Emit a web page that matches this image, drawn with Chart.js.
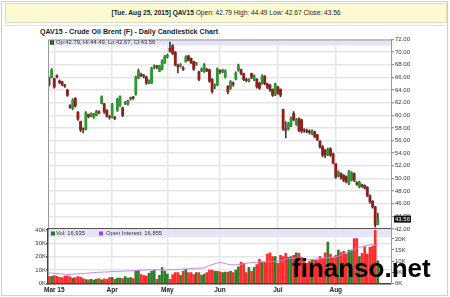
<!DOCTYPE html>
<html>
<head>
<meta charset="utf-8">
<script src="https://cdn.jsdelivr.net/npm/chart.js@4/dist/chart.umd.min.js"></script>
<style>
html, body { margin: 0; padding: 0; background: #fff; }
#wrap { position: relative; width: 450px; height: 297px; overflow: hidden; font-family: "Liberation Sans", Arial, sans-serif; }
#frame { position: absolute; left: 1px; top: 1px; width: 445px; height: 293px; border: 1px solid #cfcfcf; }
#hdr { position: absolute; left: 5px; top: 3px; width: 440px; height: 18px; background: #fbfad2; border: 1px solid #dcdcc4;
       font-size: 6.6px; line-height: 18px; text-align: center; color: #222; }
#rule { position: absolute; left: 3px; top: 25px; width: 443px; height: 1px; background: #e2e2e2; }
#ttl { position: absolute; left: 40px; top: 27.5px; font-size: 7.1px; line-height: 8px; font-weight: bold; color: #222; }
canvas { position: absolute; left: 0; top: 0; }
#wm { position: absolute; left: 292px; top: 255px; font-size: 26px; line-height: 26px; font-weight: bold; color: #000; }
</style>
</head>
<body>
<div id="wrap">
  <div id="frame"></div>
  <div id="hdr"><b>[Tue. Aug 25, 2015] QAV15</b> Open: 42.79 High: 44.49 Low: 42.67 Close: 43.56</div>
  <div id="rule"></div>
  <div id="ttl">QAV15 - Crude Oil Brent (F) - Daily Candlestick Chart</div>
  <canvas id="priceChart" width="450" height="297"></canvas>
  <canvas id="volumeChart" width="450" height="297"></canvas>
  <div id="wm">finanso.net</div>
</div>
<script>
// Daily candles, 26 Feb 2015 .. 25 Aug 2015 (one entry per trading day)
const opens = [
  65.8, 66.0, 65.8, 66.3, 65.4, 65.3, 64.8, 64.0, 61.5, 61.1,
  62.7, 60.5, 59.0, 57.9, 57.9, 60.1, 59.9, 59.7, 60.0, 60.6,
  61.9, 61.8, 60.8, 59.8, 59.7, 59.7, 60.8, 61.6, 61.2, 61.9,
  61.8, 62.6, 62.9, 63.4, 65.9, 66.5, 66.3, 66.1, 65.2, 65.1,
  67.6, 67.8, 67.0, 67.3, 68.3, 69.3, 70.6, 71.0, 70.0, 67.9,
  67.8, 67.5, 68.5, 69.4, 69.0, 68.5, 68.1, 66.9, 67.1, 66.9,
  67.3, 67.2, 65.7, 64.5, 64.8, 67.1, 66.9, 66.1, 64.6, 64.3,
  65.1, 65.8, 67.2, 67.2, 66.6, 65.7, 65.5, 66.6, 65.6, 65.7,
  65.1, 65.0, 66.2, 65.0, 64.8, 64.1, 63.3, 64.5, 64.1, 60.9,
  57.8, 57.9, 58.4, 60.3, 58.6, 59.5, 59.3, 57.7, 57.6, 57.5,
  57.1, 57.4, 56.9, 55.9, 55.0, 54.5, 53.8, 54.7, 53.9, 52.3,
  50.5, 50.8, 50.5, 50.3, 49.2, 49.8, 50.8, 49.3, 48.7, 49.0,
  48.9, 48.6, 47.3, 46.4, 45.5, 42.79
];
const highs = [
  66.1, 67.4, 65.9, 66.4, 65.6, 65.4, 64.9, 64.1, 61.7, 62.6,
  62.8, 60.6, 59.1, 58.0, 60.6, 60.2, 60.4, 60.3, 60.8, 60.7,
  63.1, 61.9, 60.9, 60.0, 61.9, 59.8, 62.7, 63.1, 61.3, 62.2,
  62.4, 62.9, 63.0, 66.2, 67.3, 66.7, 66.5, 66.2, 65.6, 67.6,
  68.0, 67.9, 67.9, 68.8, 69.5, 69.7, 71.6, 71.2, 70.1, 68.1,
  68.2, 67.7, 69.4, 69.5, 69.1, 68.6, 68.4, 67.0, 67.5, 68.2,
  67.4, 67.3, 65.8, 65.0, 67.5, 67.2, 67.3, 67.2, 64.7, 65.5,
  65.3, 66.9, 68.1, 67.3, 66.7, 65.9, 65.8, 66.7, 66.4, 65.8,
  65.2, 66.4, 66.3, 65.1, 64.9, 64.2, 65.1, 64.6, 64.2, 61.0,
  59.0, 58.9, 59.7, 60.6, 59.5, 59.6, 59.4, 57.9, 57.8, 57.7,
  57.7, 57.5, 57.0, 56.0, 55.2, 54.6, 54.8, 54.9, 54.0, 52.4,
  51.2, 50.9, 50.6, 50.4, 51.3, 51.1, 50.9, 49.5, 49.6, 49.1,
  49.0, 48.7, 47.4, 46.5, 45.6, 44.49
];
const lows = [
  64.6, 65.9, 64.3, 65.9, 65.0, 64.7, 64.4, 63.0, 61.1, 60.9,
  61.3, 59.2, 57.4, 57.2, 57.7, 59.6, 59.8, 59.5, 59.9, 60.2,
  61.8, 60.3, 59.7, 59.4, 59.6, 59.3, 60.6, 61.4, 59.8, 61.7,
  61.6, 62.4, 62.5, 63.2, 65.8, 66.1, 65.9, 64.9, 65.0, 65.0,
  67.4, 67.4, 66.9, 67.2, 68.2, 69.1, 70.0, 69.6, 67.8, 66.7,
  67.6, 67.1, 68.4, 68.6, 68.2, 67.1, 67.9, 65.5, 66.9, 66.8,
  66.9, 65.2, 63.5, 64.2, 64.7, 66.6, 66.7, 65.9, 63.4, 64.1,
  64.6, 65.6, 67.0, 66.4, 65.5, 65.3, 65.3, 65.8, 65.5, 64.3,
  64.1, 64.9, 64.8, 64.2, 63.8, 63.0, 63.1, 63.3, 62.9, 57.6,
  56.4, 57.7, 58.2, 59.1, 58.4, 57.4, 57.2, 57.3, 57.2, 57.0,
  56.9, 56.4, 56.0, 54.8, 53.4, 53.3, 53.6, 53.5, 52.3, 50.0,
  50.3, 49.9, 49.5, 49.3, 49.0, 49.6, 49.5, 48.9, 48.5, 48.6,
  48.3, 47.1, 46.1, 45.3, 42.3, 42.67
];
const closes = [
  64.8, 67.2, 64.5, 66.1, 65.2, 64.8, 64.6, 63.2, 61.3, 62.4,
  61.5, 59.4, 57.7, 57.8, 60.4, 59.8, 60.3, 60.1, 60.6, 60.4,
  62.9, 60.5, 59.9, 59.7, 61.7, 59.5, 62.5, 63.0, 60.0, 62.0,
  62.2, 62.8, 62.7, 66.0, 67.0, 66.3, 66.2, 65.1, 65.4, 67.4,
  67.8, 67.6, 67.8, 68.6, 69.3, 69.5, 70.2, 69.8, 68.0, 67.7,
  68.0, 67.3, 69.2, 68.7, 68.3, 67.3, 68.3, 65.7, 67.3, 68.0,
  67.1, 65.4, 63.8, 64.7, 67.3, 66.9, 67.1, 67.0, 63.7, 65.3,
  64.9, 66.7, 67.8, 66.6, 65.7, 65.5, 65.7, 66.0, 66.2, 64.5,
  64.3, 66.2, 65.0, 64.4, 64.0, 63.2, 64.9, 63.5, 63.2, 57.9,
  57.6, 58.7, 59.5, 59.3, 59.3, 57.6, 57.5, 57.6, 57.4, 57.3,
  57.5, 56.6, 56.2, 55.0, 53.7, 53.7, 54.5, 53.7, 52.5, 50.2,
  51.0, 50.1, 49.7, 49.5, 51.0, 50.9, 49.7, 49.1, 49.4, 48.8,
  48.5, 47.3, 46.3, 45.5, 42.6, 43.56
];
// daily volume, thousands of contracts
const volumes = [
  5.0, 5.3, 5.8, 5.2, 4.5, 4.2, 5.5, 5.6, 4.8, 4.0,
  4.3, 5.0, 4.6, 3.5, 2.8, 2.6, 3.0, 2.4, 3.2, 3.6,
  2.6, 3.4, 3.0, 4.2, 4.5, 3.0, 4.0, 4.0, 3.5, 5.0,
  4.0, 4.2, 3.5, 9.0, 9.5, 6.5, 6.0, 5.5, 7.5, 9.0,
  10.0, 3.0, 6.0, 11.8, 9.0, 7.0, 3.0, 6.5, 8.0, 8.0,
  6.0, 9.0, 10.5, 8.0, 8.0, 6.5, 8.0, 8.0, 6.0, 7.0,
  8.0, 10.0, 10.0, 9.0, 9.0, 8.7, 8.0, 8.5, 8.5, 9.0,
  8.0, 10.0, 12.4, 16.0, 15.0, 8.0, 12.0, 9.0, 12.0, 14.0,
  18.0, 16.0, 16.0, 21.9, 22.8, 20.0, 20.0, 15.0, 21.0, 20.0,
  22.4, 19.5, 20.0, 21.0, 22.8, 22.4, 19.5, 17.4, 15.0, 16.5,
  18.0, 17.4, 17.4, 20.0, 18.5, 22.8, 31.0, 22.0, 19.5, 21.0,
  25.0, 23.0, 24.0, 22.0, 25.0, 25.0, 33.6, 33.6, 20.0, 22.4,
  27.3, 22.0, 27.0, 28.0, 39.8, 16.935
];
// open interest, thousands of contracts
const openInterest = [
  4.6, 4.6, 4.5, 4.4, 4.3, 4.2, 4.1, 4.0, 4.0, 4.1,
  4.2, 4.3, 4.4, 4.4, 4.5, 4.6, 4.7, 4.8, 4.9, 5.0,
  5.0, 5.1, 5.1, 5.2, 5.3, 5.3, 5.4, 5.4, 5.5, 5.5,
  5.6, 5.6, 5.7, 5.8, 5.9, 5.9, 6.0, 6.0, 6.1, 6.0,
  6.0, 6.1, 6.1, 6.0, 6.0, 6.1, 6.1, 6.2, 6.2, 6.3,
  6.3, 6.4, 6.5, 6.5, 6.6, 6.7, 6.7, 6.8, 6.8, 7.0,
  7.5, 8.0, 8.4, 8.8, 9.1, 9.4, 9.2, 8.9, 8.6, 8.4,
  8.3, 8.3, 8.4, 8.6, 8.8, 9.0, 9.2, 9.3, 9.4, 9.5,
  9.6, 9.6, 9.7, 9.7, 9.8, 9.8, 9.9, 10.0, 10.2, 10.5,
  10.8, 11.1, 11.3, 11.4, 11.4, 11.2, 11.0, 10.8, 10.6, 10.6,
  10.7, 10.9, 11.1, 11.2, 11.4, 11.4, 11.5, 11.6, 11.7, 11.8,
  12.2, 12.8, 13.4, 13.9, 14.4, 14.8, 15.3, 15.9, 16.2, 16.5,
  16.8, 17.0, 17.3, 17.4, 17.1, 16.855
];

// first trading day of each month (index into the arrays above)
const monthTickIdx = [2, 24, 45, 65, 87, 109];
const monthTickLabels = ['Mar 15', 'Apr', 'May', 'Jun', 'Jul', 'Aug'];
const priceTicks = [42, 44, 46, 48, 50, 52, 54, 56, 58, 60, 62, 64, 66, 68, 70, 72];
const volTicks = [0, 10, 20, 30, 40];
const oiTicks = [0, 5, 10, 15, 20];

const FONT = '"Liberation Sans", Arial, sans-serif';
const GRID = '#e5e5e5';
const X_MIN = -0.38, X_MAX = 130;

const idx = closes.map((c, i) => i);
const isUp = i => closes[i] >= opens[i];
const last = closes.length - 1;

function monthTicks(scale) {
    scale.ticks = monthTickIdx.map(v => ({ value: v }));
}

// price panel: lavender legend strip, frame, last-price tag, separator
const pricePanel = {
    id: 'pricePanel',
    beforeDraw(chart) {
        const { ctx, chartArea: a } = chart;
        ctx.save();
        ctx.fillStyle = '#e4e4fa';
        ctx.fillRect(a.left, a.top, a.right - a.left, 6);
        ctx.restore();
    },
    afterDraw(chart) {
        const { ctx, chartArea: a, scales } = chart;
        ctx.save();
        ctx.strokeStyle = '#9a9a9a';
        ctx.lineWidth = 1;
        ctx.beginPath();
        ctx.moveTo(a.left + 0.5, a.bottom);
        ctx.lineTo(a.left + 0.5, a.top + 0.5);
        ctx.lineTo(a.right, a.top + 0.5);
        ctx.stroke();

        ctx.fillStyle = '#22a022';
        ctx.fillRect(a.left + 2, a.top + 1, 4, 4);
        ctx.strokeStyle = '#333';
        ctx.strokeRect(a.left + 2.5, a.top + 1.5, 3, 3);
        ctx.font = '5.8px ' + FONT;
        ctx.fillStyle = '#333';
        ctx.textBaseline = 'middle';
        ctx.fillText('Op:42.79, Hi:44.49, Lo:42.67, Cl:43.56', a.left + 8, a.top + 3.3);

        const y = scales.y.getPixelForValue(closes[last]);
        ctx.fillStyle = '#111';
        ctx.fillRect(a.right + 3, y - 3.5, 17, 7);
        ctx.fillStyle = '#fff';
        ctx.font = '6px ' + FONT;
        ctx.fillText(closes[last].toFixed(2), a.right + 4, y + 0.3);

        ctx.strokeStyle = '#555';
        ctx.lineWidth = 2;
        ctx.beginPath();
        ctx.moveTo(a.left, a.bottom);
        ctx.lineTo(a.right, a.bottom);
        ctx.stroke();
        ctx.restore();
    }
};

const volumePanel = {
    id: 'volumePanel',
    beforeDraw(chart) {
        const { ctx, chartArea: a } = chart;
        ctx.save();
        ctx.fillStyle = '#e4e4fa';
        ctx.fillRect(a.left, a.top, a.right - a.left, 7);
        ctx.restore();
    },
    afterDraw(chart) {
        const { ctx, chartArea: a } = chart;
        ctx.save();
        ctx.font = '5.8px ' + FONT;
        ctx.textBaseline = 'middle';
        ctx.fillStyle = '#1f7a1f';
        ctx.fillRect(a.left + 3, a.top + 1.5, 4, 4);
        ctx.fillStyle = '#333';
        ctx.fillText('Vol: 16,935', a.left + 8, a.top + 3.6);
        ctx.fillStyle = '#a040f0';
        ctx.fillRect(a.left + 51, a.top + 1.5, 4, 4);
        ctx.fillStyle = '#333';
        ctx.fillText('Open Interest: 16,855', a.left + 58, a.top + 3.6);
        ctx.restore();
    }
};

Chart.defaults.font.family = FONT;

const ctxPrice = document.getElementById('priceChart').getContext('2d');
const priceChart = new Chart(ctxPrice, {
    type: 'bar',
    data: {
        datasets: [{
            label: 'Range',
            data: idx.map(i => ({ x: i, y: [lows[i], highs[i]] })),
            backgroundColor: '#3a3a3a',
            barThickness: 1,
            grouped: false,
            order: 2
        }, {
            label: 'Body',
            data: idx.map(i => ({ x: i, y: [opens[i], closes[i]] })),
            backgroundColor: idx.map(i => isUp(i) ? '#2e9a2e' : '#8e1f1f'),
            barThickness: 2.2,
            grouped: false,
            order: 1
        }]
    },
    options: {
        responsive: false,
        animation: false,
        devicePixelRatio: 1,
        layout: { padding: { left: 48, top: 39.5, right: 0, bottom: 68 } },
        plugins: { legend: { display: false }, tooltip: { enabled: false } },
        scales: {
            x: {
                type: 'linear', min: X_MIN, max: X_MAX, offset: false,
                afterBuildTicks: monthTicks,
                ticks: { display: false },
                grid: { color: GRID, lineWidth: 1.5, offset: false, drawTicks: false },
                border: { color: '#555', width: 2 },
                afterFit: s => { s.height = 0; }
            },
            y: {
                position: 'right', min: 42, max: 72,
                afterBuildTicks: s => { s.ticks = priceTicks.map(v => ({ value: v })); },
                ticks: { callback: v => v.toFixed(2), font: { size: 6 }, color: '#333', padding: 1 },
                grid: { color: GRID, lineWidth: 1.5, tickLength: 3, tickColor: '#777', tickWidth: 1 },
                border: { color: '#999' },
                afterFit: s => { s.width = 59; }
            }
        }
    },
    plugins: [pricePanel]
});

const ctxVolume = document.getElementById('volumeChart').getContext('2d');
const volumeChart = new Chart(ctxVolume, {
    type: 'bar',
    data: {
        datasets: [{
            type: 'line',
            label: 'Open Interest',
            data: idx.map(i => ({ x: i, y: openInterest[i] })),
            yAxisID: 'yo',
            borderColor: '#c484f4',
            borderWidth: 1,
            pointRadius: 0,
            tension: 0,
            order: 1
        }, {
            label: 'Volume',
            data: idx.map(i => ({ x: i, y: volumes[i] })),
            yAxisID: 'yv',
            backgroundColor: idx.map(i => isUp(i) ? '#2b7d2b' : '#ff2a2a'),
            barThickness: 2,
            order: 2
        }]
    },
    options: {
        responsive: false,
        animation: false,
        devicePixelRatio: 1,
        layout: { padding: { left: 0, top: 230, right: 0, bottom: 2.7 } },
        plugins: { legend: { display: false }, tooltip: { enabled: false } },
        scales: {
            x: {
                type: 'linear', min: X_MIN, max: X_MAX, offset: false,
                afterBuildTicks: monthTicks,
                ticks: {
                    callback: v => monthTickLabels[monthTickIdx.indexOf(v)],
                    font: { size: 6.5, weight: 'bold' }, color: '#222', padding: 1,
                    maxRotation: 0, autoSkip: false
                },
                grid: { color: GRID, lineWidth: 1.5, offset: false, tickLength: 2, tickColor: '#555' },
                border: { color: '#444', width: 1.5 },
                afterFit: s => { s.height = 11; }
            },
            yv: {
                position: 'left', min: 0, max: 40,
                afterBuildTicks: s => { s.ticks = volTicks.map(v => ({ value: v })); },
                ticks: { callback: v => v + 'K', font: { size: 6 }, color: '#333', padding: 0 },
                grid: { color: GRID, lineWidth: 1.5, tickLength: 2, tickColor: '#555' },
                border: { color: '#444', width: 1.5 },
                afterFit: s => { s.width = 48; }
            },
            yo: {
                position: 'right', min: 0, max: 24,
                afterBuildTicks: s => { s.ticks = oiTicks.map(v => ({ value: v })); },
                ticks: { callback: v => v + 'K', font: { size: 6 }, color: '#333', padding: 1 },
                grid: { drawOnChartArea: false, tickLength: 3, tickColor: '#777' },
                border: { color: '#999' },
                afterFit: s => { s.width = 59; }
            }
        }
    },
    plugins: [volumePanel]
});
</script>
</body>
</html>
